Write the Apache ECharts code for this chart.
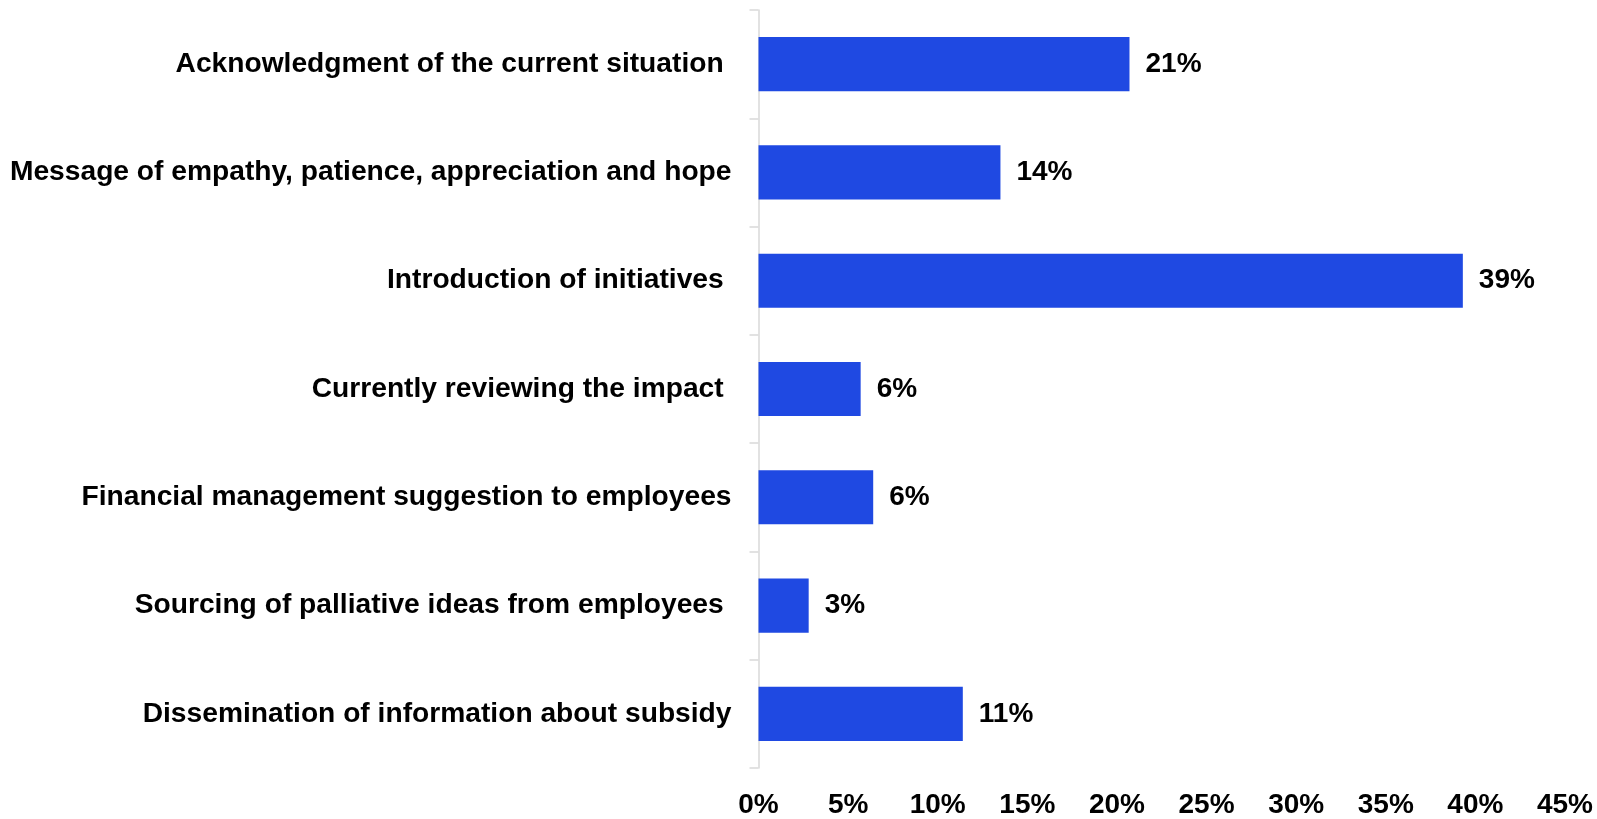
<!DOCTYPE html>
<html>
<head>
<meta charset="utf-8">
<script src="https://cdn.jsdelivr.net/npm/echarts@6/dist/echarts.min.js"></script>
<style>
  html, body { margin: 0; padding: 0; background: #ffffff; }
  #chart { width: 1597px; height: 819px; }
</style>
</head>
<body>
<div id="chart"></div>
<script>
// Responses, top to bottom
const categories = [
  'Acknowledgment of the current situation ',
  'Message of empathy, patience, appreciation and hope',
  'Introduction of initiatives ',
  'Currently reviewing the impact ',
  'Financial management suggestion to employees',
  'Sourcing of palliative ideas from employees ',
  'Dissemination of information about subsidy'
];
// Share of respondents (%)
const shares = [20.7, 13.5, 39.3, 5.7, 6.4, 2.8, 11.4];
// Value axis range (%)
const axisMin = 0;
const axisMax = 45;
const axisStep = 5;

const FONT = '"Liberation Sans", Arial, Helvetica, sans-serif';

const chart = echarts.init(document.getElementById('chart'), null, { renderer: 'canvas' });

chart.setOption({
  backgroundColor: '#ffffff',
  animation: false,
  grid: { left: 758.5, right: 32, top: 10, bottom: 49, containLabel: false },
  xAxis: {
    type: 'value',
    min: axisMin,
    max: axisMax,
    interval: axisStep,
    axisLine: { show: false },
    axisTick: { show: false },
    splitLine: { show: false },
    axisLabel: {
      formatter: '{value}%',
      margin: 23,
      color: '#000000',
      fontFamily: FONT,
      fontWeight: 'bold',
      fontSize: 28
    }
  },
  yAxis: {
    type: 'category',
    data: categories,
    inverse: true,
    axisLine: { show: true, lineStyle: { color: '#d9d9d9', width: 1.5 } },
    axisTick: { show: true, alignWithLabel: false, length: 9, lineStyle: { color: '#d9d9d9', width: 1.5 } },
    splitLine: { show: false },
    axisLabel: {
      margin: 27,
      color: '#000000',
      fontFamily: FONT,
      fontWeight: 'bold',
      fontSize: 28.2
    }
  },
  series: [{
    type: 'bar',
    data: shares,
    barWidth: '50%',
    itemStyle: { color: '#1f49e2' },
    label: {
      show: true,
      position: 'right',
      distance: 16,
      formatter: p => Math.round(p.value) + '%',
      color: '#000000',
      fontFamily: FONT,
      fontWeight: 'bold',
      fontSize: 28
    }
  }]
});
</script>
</body>
</html>
